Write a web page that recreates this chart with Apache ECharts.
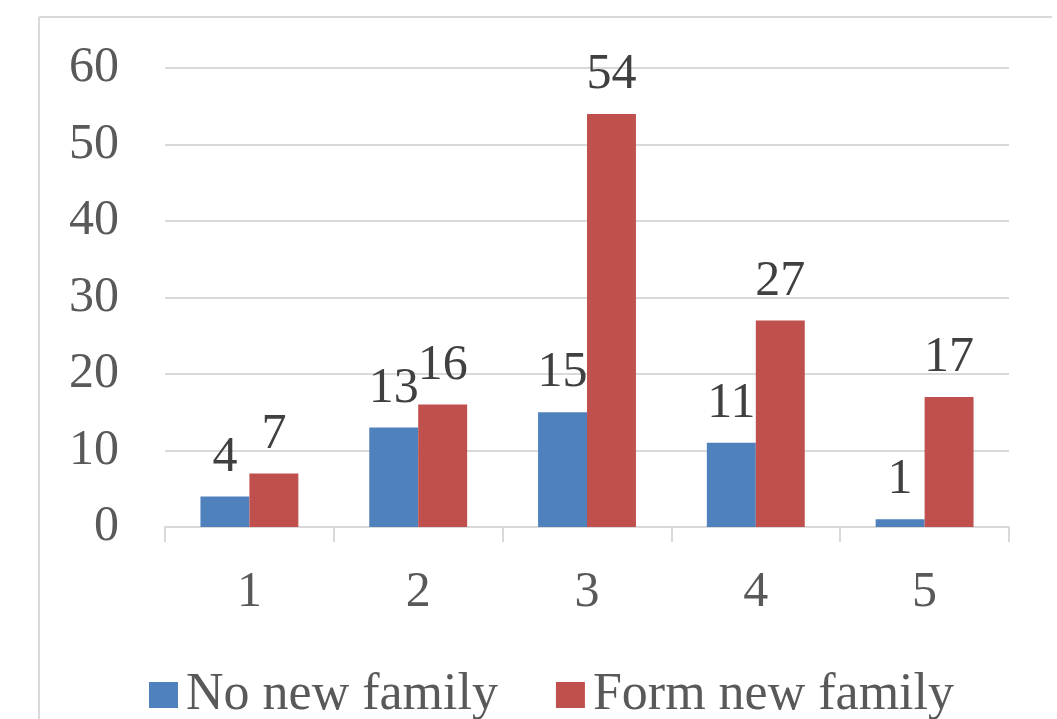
<!DOCTYPE html>
<html>
<head>
<meta charset="utf-8">
<script src="https://cdn.jsdelivr.net/npm/echarts@6/dist/echarts.min.js"></script>
<style>
html,body{margin:0;padding:0;background:#fff;}
#c{width:1057px;height:719px;}
</style>
</head>
<body>
<div id="c"></div>
<script>
const categories = ['1', '2', '3', '4', '5'];
const noNewFamily = [4, 13, 15, 11, 1];
const formNewFamily = [7, 16, 54, 27, 17];
const seriesNames = ['No new family', 'Form new family'];

const FONT = 'Liberation Serif';
const TXT = '#595959';
const chart = echarts.init(document.getElementById('c'), null, {renderer: 'canvas'});
chart.setOption({
  animation: false,
  backgroundColor: '#fff',
  graphic: [
    {type: 'line', shape: {x1: 39, y1: 17, x2: 1052, y2: 17}, style: {stroke: '#d9d9d9', lineWidth: 2}},
    {type: 'line', shape: {x1: 39, y1: 17, x2: 39, y2: 719}, style: {stroke: '#d9d9d9', lineWidth: 2}}
  ],
  grid: {left: 165, right: 48, top: 68, bottom: 192, containLabel: false},
  legend: {
    top: 664,
    left: 144,
    itemWidth: 29,
    itemHeight: 26,
    itemGap: 58,
    icon: 'rect',
    textStyle: {fontFamily: FONT, fontSize: 52, color: TXT, padding: [0, 0, 0, 3]},
    data: seriesNames
  },
  xAxis: {
    type: 'category',
    data: categories,
    axisLine: {lineStyle: {color: '#d9d9d9', width: 2}},
    axisTick: {show: true, length: 15, lineStyle: {color: '#d9d9d9', width: 2}},
    axisLabel: {fontFamily: FONT, fontSize: 50, color: TXT, margin: 41}
  },
  yAxis: {
    type: 'value',
    min: 0, max: 60, interval: 10,
    axisLine: {show: false},
    axisTick: {show: false},
    splitLine: {lineStyle: {color: '#d9d9d9', width: 2}},
    axisLabel: {fontFamily: FONT, fontSize: 50, color: TXT, margin: 46}
  },
  series: [
    {
      name: seriesNames[0], type: 'bar', data: noNewFamily,
      barGap: '0%', barCategoryGap: '42%',
      itemStyle: {color: '#4f81bd'},
      label: {show: true, position: 'top', distance: 14, fontFamily: FONT, fontSize: 50, color: '#404040'}
    },
    {
      name: seriesNames[1], type: 'bar', data: formNewFamily,
      barGap: '0%', barCategoryGap: '42%',
      itemStyle: {color: '#c0504d'},
      label: {show: true, position: 'top', distance: 14, fontFamily: FONT, fontSize: 50, color: '#404040'}
    }
  ]
});
</script>
</body>
</html>
